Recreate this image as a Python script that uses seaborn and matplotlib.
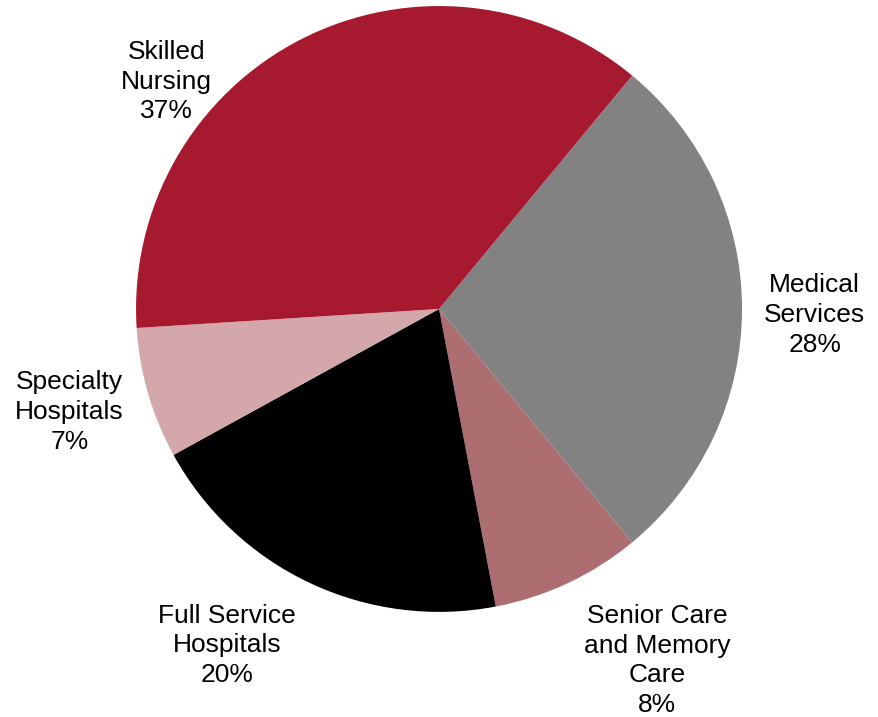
import matplotlib
matplotlib.use("Agg")
import matplotlib.pyplot as plt
import seaborn as sns

# ── Data ──────────────────────────────────────────────────────────────────
labels = ["Medical\nServices", "Senior Care\nand Memory\nCare", "Full Service\nHospitals",
          "Specialty\nHospitals", "Skilled\nNursing"]
shares = [28, 8, 20, 7, 37]
colors = ["#828283", "#AD6E71", "#000000", "#D4A7AB", "#A6192E"]

# label anchor points, in pie-radius units
label_pos = [(1.24, -0.02), (0.72, -1.16), (-0.70, -1.11), (-1.22, -0.34), (-0.90, 0.75)]

sns.set_theme(style="white")
plt.rcParams["font.family"] = ["Liberation Sans", "DejaVu Sans"]

fig = plt.figure(figsize=(8.79, 7.17), dpi=100)
ax = fig.add_axes([0, 0, 1, 1])

ax.pie(shares, colors=colors, startangle=50.4, counterclock=False,
       wedgeprops=dict(linewidth=0, edgecolor="none"))

for lab, val, (x, y) in zip(labels, shares, label_pos):
    ax.text(x, y, f"{lab}\n{val}%", ha="center", va="center",
            fontsize=19, linespacing=1.3, color="black")

ax.set_xlim(-1.449, 1.452)
ax.set_ylim(-1.347, 1.020)
ax.set_aspect("auto")
ax.axis("off")

fig.savefig("out.png", dpi=100)
